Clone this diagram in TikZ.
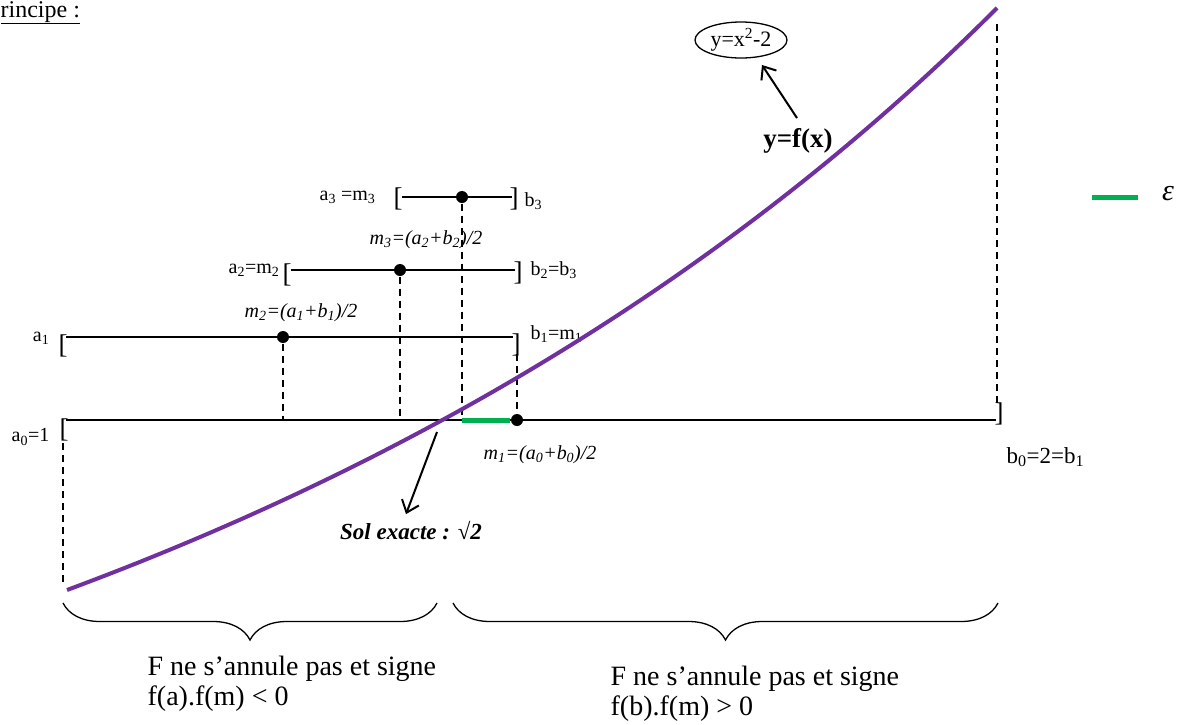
\documentclass[tikz,border=0pt]{standalone}
\usepackage{fontspec}
\setmainfont{Liberation Serif}
\usetikzlibrary{shapes.geometric,arrows.meta,decorations.pathreplacing}
\definecolor{curvepurple}{RGB}{112,48,160}
\definecolor{epsgreen}{RGB}{0,176,80}

\begin{document}
\begin{tikzpicture}[x=1pt, y=-1pt, line width=1.3pt,
    every node/.style={font=\fontsize{20}{24}\selectfont, inner sep=0pt},
    brk/.style={font=\fontsize{27}{30}\selectfont},
    pt/.style={circle, fill=black, minimum size=12pt},
    guide/.style={dash pattern=on 7pt off 5pt},
    midlbl/.style={font=\fontsize{20}{24}\selectfont\itshape},
    tip/.style={-{Straight Barb[length=11pt,width=18pt,line width=2pt]}, line width=2pt},
    bottomtxt/.style={font=\fontsize{28}{30}\selectfont, align=left, anchor=north west}]
  \useasboundingbox (0,0) rectangle (1184,724);

  % title
  \node[anchor=base west, font=\fontsize{24}{28}\selectfont] (title) at (0,17) {\underline{rincipe :}};

  % interval [a0,b0]
  \coordinate (a0) at (66,420);
  \coordinate (b0) at (996,420);
  \draw (a0) -- (b0);
  \node[brk] (a0brk) at (64,430) {[};
  \node[brk] (b0brk) at (999,414) {]};
  \node[anchor=east] (a0lbl) at (50,437) {a\textsubscript{0}=1};
  \node[anchor=west, font=\fontsize{23}{26}\selectfont] (b0lbl) at (1006,457) {b\textsubscript{0}=2=b\textsubscript{1}};
  \node[pt] (m1) at (517,420) {};
  \node[midlbl, anchor=west] (m1lbl) at (483,455) {m\textsubscript{1}=(a\textsubscript{0}+b\textsubscript{0})/2};

  % interval [a1,b1]
  \coordinate (a1) at (66,337);
  \coordinate (b1) at (513,337);
  \draw (a1) -- (b1);
  \node[brk] (a1brk) at (63,346) {[};
  \node[brk] (b1brk) at (516,345) {]};
  \node[anchor=east] (a1lbl) at (50,338) {a\textsubscript{1}};
  \node[anchor=west] (b1lbl) at (530,334) {b\textsubscript{1}=m\textsubscript{1}};
  \node[pt] (m2) at (283,337) {};
  \node[midlbl] (m2lbl) at (301,313) {m\textsubscript{2}=(a\textsubscript{1}+b\textsubscript{1})/2};

  % interval [a2,b2]
  \coordinate (a2) at (291,270);
  \coordinate (b2) at (515,270);
  \draw (a2) -- (b2);
  \node[brk] (a2brk) at (287,275) {[};
  \node[brk] (b2brk) at (518,273) {]};
  \node[anchor=east] (a2lbl) at (280,270) {a\textsubscript{2}=m\textsubscript{2}};
  \node[anchor=west] (b2lbl) at (530,270) {b\textsubscript{2}=b\textsubscript{3}};
  \node[pt] (m3) at (400,270) {};
  \node[midlbl] (m3lbl) at (426,240) {m\textsubscript{3}=(a\textsubscript{2}+b\textsubscript{2})/2};

  % interval [a3,b3]
  \coordinate (a3) at (402,197);
  \coordinate (b3) at (512,197);
  \draw (a3) -- (b3);
  \node[brk] (a3brk) at (398,199) {[};
  \node[brk] (b3brk) at (514,199) {]};
  \node[anchor=east] (a3lbl) at (376,197) {a\textsubscript{3} =m\textsubscript{3}};
  \node[anchor=west] (b3lbl) at (524,201) {b\textsubscript{3}};
  \node[pt] (m4) at (462,197) {};

  % dashed guides
  \coordinate (r1) at (283,420);
  \coordinate (r2) at (400,420);
  \coordinate (r3) at (462,420);
  \coordinate (b1low) at (517,354);
  \coordinate (a0top) at (63,443);
  \coordinate (a0low) at (63,585);
  \coordinate (b0top) at (997,24);
  \coordinate (b0low) at (997,403);
  \draw[guide] (m2) -- (r1);
  \draw[guide] (m3) -- (r2);
  \draw[guide] (m4) -- (r3);
  \draw[guide] (b1low) -- (m1);
  \draw[guide] (a0top) -- (a0low);
  \draw[guide] (b0top) -- (b0low);

  % epsilon segment
  \draw[epsgreen, line width=5pt] (r3) -- (m1.west);

  % the curve
  \coordinate (cstart) at (67,590);
  \coordinate (cend) at (997,8);
  \draw[curvepurple, line width=4pt] (cstart) .. controls (436,453) and (746,259) .. (cend);

  % curve labels
  \node[font=\fontsize{22}{26}\selectfont] (eq) at (741,40) {y=x\textsuperscript{2}-2};
  \draw (eq.center) ellipse [x radius=46, y radius=18];
  \coordinate (eqtip) at (762,65);
  \node[font=\fontsize{27}{30}\selectfont\bfseries] (fx) at (798,141) {y=f(x)};
  \coordinate (fxtop) at (797,118);
  \draw[tip] (fxtop) -- (eqtip);

  % exact solution
  \node[font=\fontsize{23}{26}\selectfont\bfseries\itshape] (sol) at (411,531) {Sol exacte : √2};
  \coordinate (root) at (437,432);
  \draw[tip] (root) -- ([xshift=-5pt,yshift=7pt]sol.north);

  % legend
  \coordinate (legA) at (1092,197);
  \coordinate (legB) at (1138,197);
  \draw[epsgreen, line width=5pt] (legA) -- (legB);
  \node[font=\fontsize{30}{34}\selectfont\itshape] (eps) at (1168,194) {ε};

  % braces
  \coordinate (lbA) at (63,603);
  \coordinate (lbB) at (437,603);
  \coordinate (rbA) at (453,603);
  \coordinate (rbB) at (998,603);
  \draw[decorate, decoration={brace, amplitude=37pt, mirror}] (lbA) -- (lbB);
  \draw[decorate, decoration={brace, amplitude=37pt, mirror}] (rbA) -- (rbB);
  \node[bottomtxt] (lefttxt) at (147,655) {F ne s’annule pas et signe\\f(a).f(m) < 0};
  \node[bottomtxt] (righttxt) at (610,665) {F ne s’annule pas et signe\\f(b).f(m) > 0};
\end{tikzpicture}
\end{document}
